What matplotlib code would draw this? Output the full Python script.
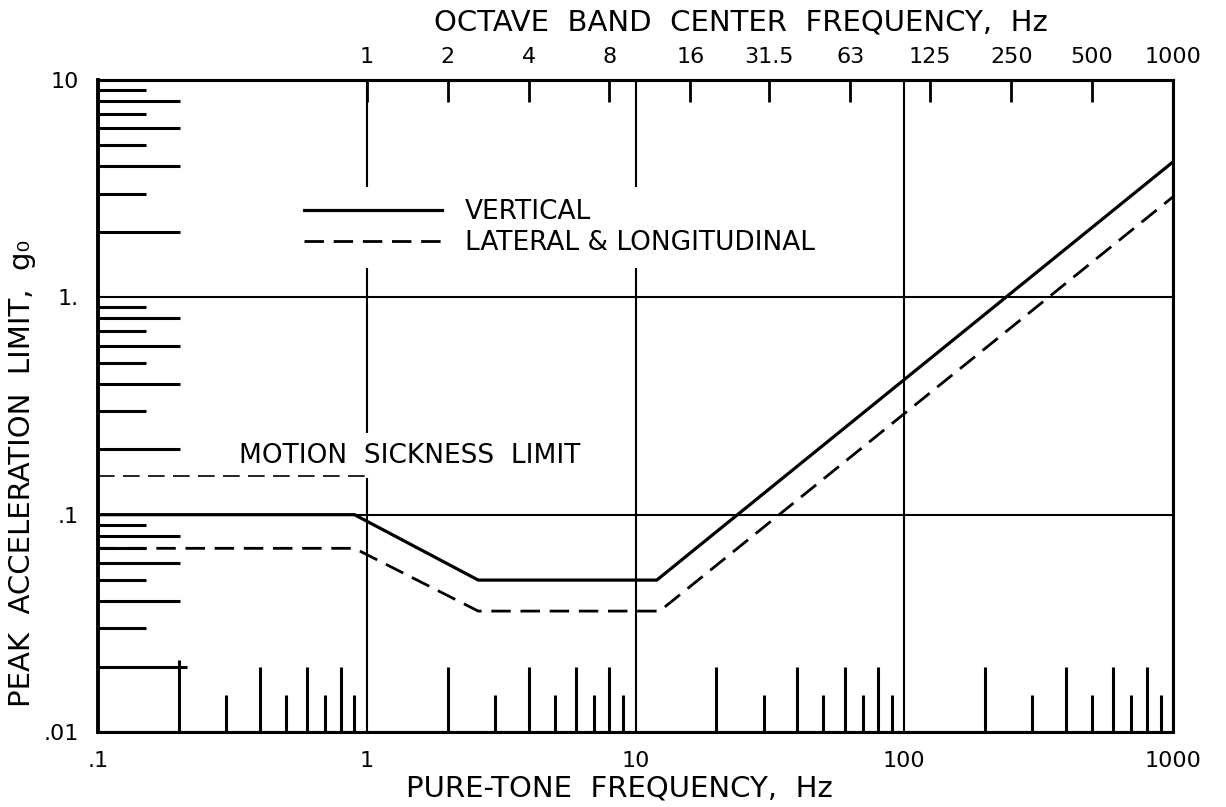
import numpy as np
import matplotlib.pyplot as plt
from matplotlib.ticker import NullLocator

plt.rcParams['font.family'] = ['DejaVu Sans']

# limit curves (frequency in Hz, peak acceleration in g)
freq_vert = [0.1, 0.9, 2.6, 12.0, 1000.0]
acc_vert = [0.1, 0.1, 0.05, 0.05, 4.2]
freq_lat = [0.1, 0.9, 2.6, 12.3, 1000.0]
acc_lat = [0.07, 0.07, 0.036, 0.036, 2.9]

# motion sickness limit below 1 Hz
sick_freq = [0.1, 1.0]
sick_acc = [0.15, 0.15]

bottom_ticks = [0.1, 1, 10, 100, 1000]
bottom_labels = ['.1', '1', '10', '100', '1000']
left_ticks = [0.01, 0.1, 1, 10]
left_labels = ['.01', '.1', '1.', '10']
octave_centers = [1, 2, 4, 8, 16, 31.5, 63, 125, 250, 500, 1000]
octave_labels = ['1', '2', '4', '8', '16', '31.5', '63', '125', '250', '500', '1000']

W, H = 1226, 807
fig = plt.figure(figsize=(W / 100, H / 100), dpi=100)
ax = fig.add_axes([98 / W, (H - 732) / H, 1075 / W, 652 / H])
ax.set_xscale('log')
ax.set_yscale('log')
ax.set_xlim(0.1, 1000)
ax.set_ylim(0.01, 10)

for s in ax.spines.values():
    s.set_linewidth(2.2)
ax.spines['left'].set_linewidth(2.8)

ax.grid(True, which='major', color='k', lw=1.5)
ax.set_xticks(bottom_ticks, bottom_labels)
ax.set_yticks(left_ticks, left_labels)
ax.xaxis.set_minor_locator(NullLocator())
ax.yaxis.set_minor_locator(NullLocator())
ax.tick_params(axis='x', length=0, pad=14, labelsize=16)
ax.tick_params(axis='y', length=0, pad=14, labelsize=16)

# hand drawn style inner ticks: long on even, short on odd multiples
for d in [0.01, 0.1, 1]:
    for m in range(2, 10):
        y = m * d
        ln = 0.0763 if m % 2 == 0 else 0.0447
        if np.isclose(y, 0.02):
            ln = 0.083
        ax.hlines(y, 0, ln, transform=ax.get_yaxis_transform(), color='k', lw=2.2)
for d in [0.1, 1, 10, 100]:
    for m in range(2, 10):
        x = m * d
        ln = 0.099 if m % 2 == 0 else 0.057
        if np.isclose(x, 0.2):
            ln = 0.111
        ax.vlines(x, 0, ln, transform=ax.get_xaxis_transform(), color='k', lw=2.2)

# octave band axis along the top
sec = ax.secondary_xaxis('top')
sec.set_xticks(octave_centers, octave_labels)
sec.xaxis.set_minor_locator(NullLocator())
sec.tick_params(direction='in', length=16, width=2, pad=9, labelsize=16)
sec.spines['top'].set_linewidth(2.2)

ax.plot(freq_vert, acc_vert, color='k', lw=2.3, solid_joinstyle='miter',
        label='VERTICAL', zorder=4)
ax.plot(freq_lat, acc_lat, color='k', lw=2.0, linestyle=(0, (7, 3.5)),
        label='LATERAL & LONGITUDINAL', zorder=4)
ax.plot(sick_freq, sick_acc, color='k', lw=1.2, linestyle=(0, (10, 5)), zorder=4)

ax.text(1.45, 0.187, 'MOTION  SICKNESS  LIMIT', fontsize=19, ha='center',
        va='center', zorder=3,
        bbox=dict(facecolor='white', edgecolor='none', pad=7))

leg = ax.legend(loc='upper left', bbox_to_anchor=(0.181, 0.836),
                borderaxespad=0, fontsize=19, handlelength=5.2,
                handletextpad=0.87, labelspacing=0.19, borderpad=0.45,
                frameon=True, fancybox=False, framealpha=1)
leg.get_frame().set_facecolor('white')
leg.get_frame().set_edgecolor('none')

fig.text(741 / W, 1 - 22 / H, 'OCTAVE  BAND  CENTER  FREQUENCY,  Hz',
         fontsize=21, ha='center', va='center')
fig.text(619 / W, 1 - 789 / H, 'PURE-TONE  FREQUENCY,  Hz',
         fontsize=21, ha='center', va='center')
fig.text(22 / W, 1 - 473 / H, 'PEAK  ACCELERATION  LIMIT,  g\u2080',
         fontsize=21, rotation=90, ha='center', va='center')

fig.savefig('out.png', dpi=100)
